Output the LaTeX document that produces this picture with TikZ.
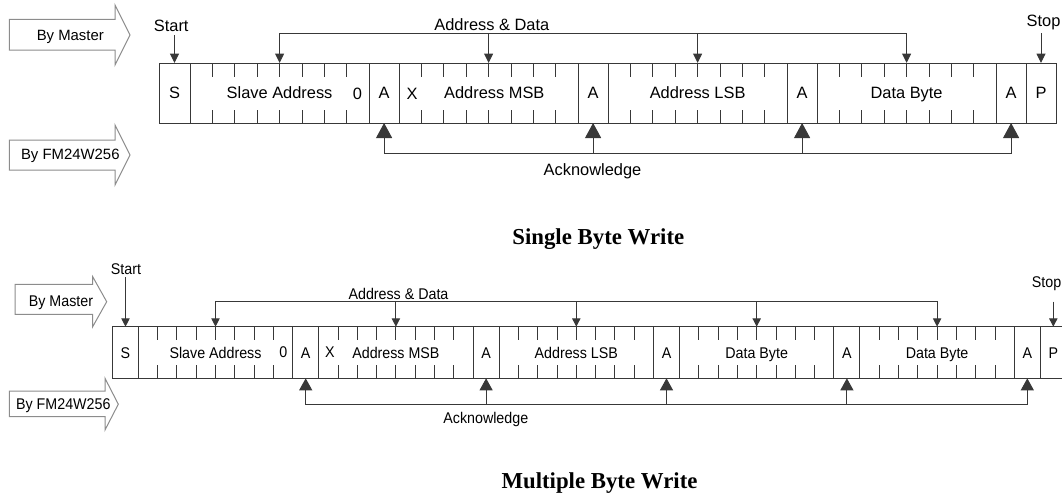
\documentclass[tikz,border=0pt]{standalone}
\usepackage{fontspec}
\setmainfont{Liberation Serif}
\newfontfamily\arialf{Liberation Sans}
\newfontfamily\arialn[FakeStretch=0.92]{Liberation Sans}
\usetikzlibrary{arrows.meta,calc}
\newcommand\fTop{\arialf\fontsize{16.4pt}{19pt}\selectfont}
\newcommand\fArrT{\arialf\fontsize{14.9pt}{18pt}\selectfont}
\newcommand\fBot{\arialn\fontsize{15.5pt}{18pt}\selectfont}
\newcommand\fTitle{\bfseries\fontsize{22.8pt}{26pt}\selectfont}
\newcommand\bitticks[3]{%
  \foreach \k in {1,...,7}{%
    \draw[ln] ($(#1.north west)!\k/8!(#1.north east)$) -- ++(0,#2);
    \draw[ln] ($(#1.south west)!\k/8!(#1.south east)$) -- ++(0,-#3);
  }}
\tikzset{
  ln/.style={draw=black!78, line width=1pt},
  bigarr/.style={draw=black!45, line width=1pt, fill=white, line join=miter},
  fT/.style={ln, rectangle, inner sep=0pt, outer sep=0pt, minimum height=60pt,
    anchor=north west, font=\fTop, text height=11.7pt, text depth=0pt},
  fB/.style={ln, rectangle, inner sep=0pt, outer sep=0pt, minimum height=51.6pt,
    anchor=north west, font=\fBot, text height=11pt, text depth=0pt},
  lblT/.style={anchor=base, inner sep=0pt, font=\fTop},
  lblA/.style={anchor=base, inner sep=0pt, font=\fArrT},
  lblB/.style={anchor=base, inner sep=0pt, font=\fBot},
  ttl/.style={anchor=base, inner sep=0pt, font=\fTitle},
  dnT/.style={-{Triangle[length=9.5pt,width=9pt]}},
  upT/.style={-{Triangle[length=15pt,width=16pt]}},
  dnB/.style={-{Triangle[length=8.3pt,width=8.3pt]}},
  upB/.style={-{Triangle[length=12pt,width=13pt]}},
  hl/.style={ln, line cap=rect}
}
\begin{document}
\begin{tikzpicture}[x=1pt,y=-1pt]
\clip (0,0) rectangle (1062,498);
% ================= TOP: Single Byte Write =================
\draw[bigarr] (9.3,19.3) -- (115,19.3) -- (115,5) -- (130,35) -- (115,65) -- (115,50) -- (9.3,50) -- cycle;
\node[lblA] (bmT) at (70.3,40) {By Master};
\draw[bigarr] (9.3,140) -- (115,140) -- (115,125) -- (130,155) -- (115,185) -- (115,170) -- (9.3,170) -- cycle;
\node[lblA] (bfT) at (70.3,159.3) {By FM24W256};

\node[fT, minimum width=31pt]    (tS)   at (159,63)   {S};
\node[fT, minimum width=179.2pt] (tSA)  at (190,63)   {Slave Address};
\node[fT, minimum width=29.8pt]  (tA1)  at (369.2,63) {A};
\node[fT, minimum width=179.2pt] (tMSB) at (399,63)   {\hspace*{11.4pt}Address MSB};
\node[fT, minimum width=29.8pt]  (tA2)  at (578.2,63) {A};
\node[fT, minimum width=179.2pt] (tLSB) at (608,63)   {Address LSB};
\node[fT, minimum width=29.8pt]  (tA3)  at (787.2,63) {A};
\node[fT, minimum width=179.2pt] (tDB)  at (817,63)   {Data Byte};
\node[fT, minimum width=29.8pt]  (tA4)  at (996.2,63) {A};
\node[fT, minimum width=30pt]    (tP)   at (1026,63)  {P};
\node[lblT] (t0) at (357.5,99) {0};
\node[lblT] (tX) at (412,99) {X};
\bitticks{tSA}{14}{13.5}
\bitticks{tMSB}{14}{13.5}
\bitticks{tLSB}{14}{13.5}
\bitticks{tDB}{14}{13.5}

\node[lblT] (stT) at (171.2,31) {Start};
\coordinate (stTa) at ($(tS.north)+(0,-28)$);
\draw[ln,dnT] (stTa) -- (tS.north);
\node[lblT] (spT) at (1043.5,26) {Stop};
\coordinate (spTa) at ($(tP.north)+(0,-30)$);
\draw[ln,dnT] (spTa) -- (tP.north);

\coordinate (adT) at (0,33.5);
\node[lblT] (adTl) at (491.8,30.7) {Address \& Data};
\draw[hl] (tSA.north |- adT) -- (tDB.north |- adT);
\foreach \n in {tSA,tMSB,tLSB,tDB} \draw[ln,dnT] (\n.north |- adT) -- (\n.north);

\coordinate (akT) at (0,153.3);
\node[lblT] (akTl) at (592.5,175) {Acknowledge};
\draw[hl] (tA1.south |- akT) -- (tA4.south |- akT);
\foreach \n in {tA1,tA2,tA3,tA4} \draw[ln,upT] (\n.south |- akT) -- (\n.south);

\node[ttl] (tt1) at (598.3,244) {Single Byte Write};

% ================= BOTTOM: Multiple Byte Write =================
\draw[bigarr] (15,284.3) -- (92.7,284.3) -- (92.7,276.7) -- (106.7,301.7) -- (92.7,326.7) -- (92.7,314.3) -- (15,314.3) -- cycle;
\node[lblB] (bmB) at (61,306) {By Master};
\draw[bigarr] (9.3,391) -- (105,391) -- (105,378.3) -- (118.3,404.2) -- (105,430) -- (105,416.7) -- (9.3,416.7) -- cycle;
\node[lblB] (bfB) at (63.3,409) {By FM24W256};

\node[fB, minimum width=25.6pt]  (bS)   at (112.7,326.7)  {S};
\node[fB, minimum width=154.4pt] (bSA)  at (138.3,326.7)  {Slave Address};
\node[fB, minimum width=26pt]    (bA1)  at (292.7,326.7)  {A};
\node[fB, minimum width=154.4pt] (bMSB) at (318.7,326.7)  {Address MSB};
\node[fB, minimum width=26pt]    (bA2)  at (473.1,326.7)  {A};
\node[fB, minimum width=154.4pt] (bLSB) at (499.1,326.7)  {Address LSB};
\node[fB, minimum width=26pt]    (bA3)  at (653.5,326.7)  {A};
\node[fB, minimum width=154.4pt] (bD1)  at (679.5,326.7)  {Data Byte};
\node[fB, minimum width=26pt]    (bA4)  at (833.9,326.7)  {A};
\node[fB, minimum width=154.4pt] (bD2)  at (859.9,326.7)  {Data Byte};
\node[fB, minimum width=26pt]    (bA5)  at (1014.3,326.7) {A};
\node[fB, minimum width=26pt]    (bP)   at (1040.3,326.7) {P};
\node[lblB] (b0) at (283.3,357.7) {0};
\node[lblB] (bX) at (330,357.7) {X};
\bitticks{bSA}{13.3}{13.3}
\bitticks{bMSB}{13.3}{13.3}
\bitticks{bLSB}{13.3}{13.3}
\bitticks{bD1}{13.3}{13.3}
\bitticks{bD2}{13.3}{13.3}

\node[lblB] (stB) at (126,274) {Start};
\coordinate (stBa) at ($(bS.north)+(0,-49.7)$);
\draw[ln,dnB] (stBa) -- (bS.north);
\node[lblB, anchor=base east] (spB) at (1061.5,287.3) {Stop};
\coordinate (spBa) at ($(bP.north)+(0,-25)$);
\draw[ln,dnB] (spBa) -- (bP.north);

\coordinate (adB) at (0,301);
\node[lblB] (adBl) at (398.5,299.3) {Address \& Data};
\draw[hl] (bSA.north |- adB) -- (bD2.north |- adB);
\foreach \n in {bSA,bMSB,bLSB,bD1,bD2} \draw[ln,dnB] (\n.north |- adB) -- (\n.north);

\coordinate (akB) at (0,404);
\node[lblB] (akBl) at (485.8,423.3) {Acknowledge};
\draw[hl] (bA1.south |- akB) -- (bA5.south |- akB);
\foreach \n in {bA1,bA2,bA3,bA4,bA5} \draw[ln,upB] (\n.south |- akB) -- (\n.south);

\node[ttl] (tt2) at (599.5,488.3) {Multiple Byte Write};
\end{tikzpicture}
\end{document}
